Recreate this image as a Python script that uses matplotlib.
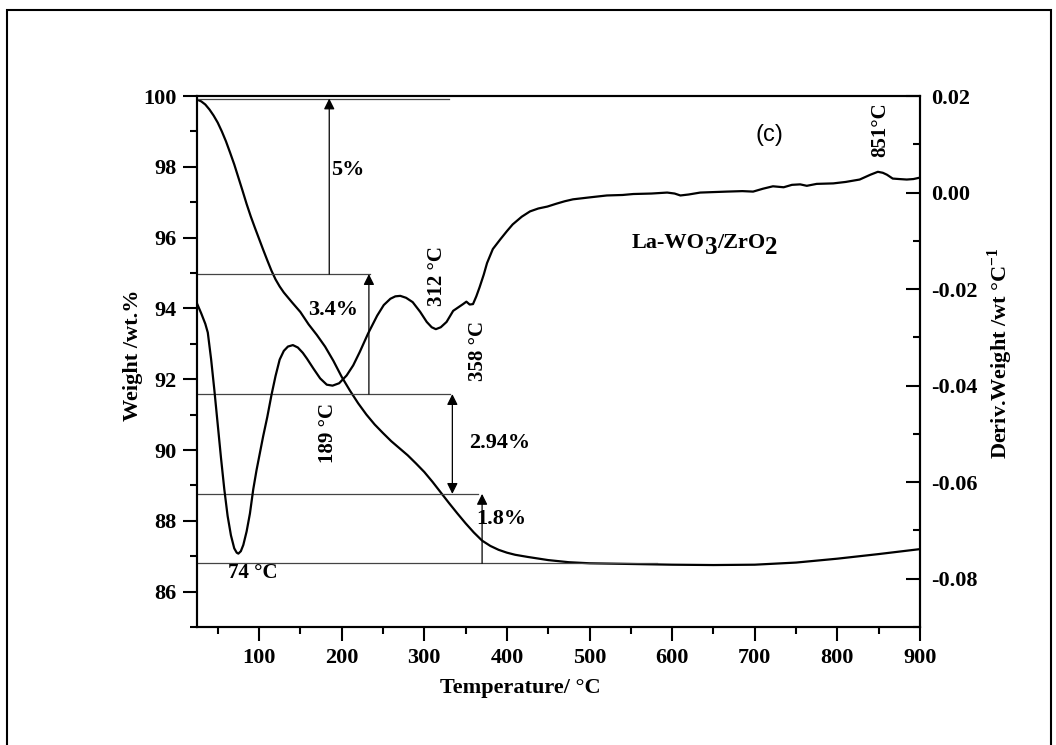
import numpy as np
import matplotlib.pyplot as plt
from matplotlib.patches import Rectangle
from matplotlib.ticker import MultipleLocator, FormatStrFormatter

plt.rcParams['font.family'] = 'Liberation Serif'
plt.rcParams['font.weight'] = 'bold'
plt.rcParams['axes.labelweight'] = 'bold'
plt.rcParams['axes.unicode_minus'] = False
plt.rcParams['mathtext.fontset'] = 'custom'
plt.rcParams['mathtext.rm'] = 'Liberation Serif:bold'
plt.rcParams['mathtext.bf'] = 'Liberation Serif:bold'

# TGA weight curve (left axis)
tga_temp = [25, 30, 35, 40, 45, 50, 55, 60, 65, 70, 75, 80, 85, 90, 95, 100, 105, 110,
            115, 120, 125, 130, 135, 140, 150, 160, 170, 180, 190, 200, 210, 220, 230,
            240, 250, 260, 270, 280, 290, 300, 310, 320, 330, 340, 350, 360, 370, 380,
            390, 400, 410, 425, 450, 475, 500, 550, 600, 650, 700, 750, 800, 850, 900]
tga_weight = [99.90, 99.85, 99.76, 99.62, 99.45, 99.25, 99.00, 98.72, 98.40, 98.07,
              97.70, 97.33, 96.95, 96.60, 96.28, 95.97, 95.66, 95.36, 95.07, 94.82,
              94.62, 94.45, 94.31, 94.17, 93.90, 93.55, 93.25, 92.92, 92.52, 92.07,
              91.68, 91.32, 91.00, 90.72, 90.48, 90.25, 90.05, 89.85, 89.62, 89.38,
              89.10, 88.80, 88.50, 88.21, 87.93, 87.67, 87.44, 87.29, 87.18, 87.10,
              87.04, 86.98, 86.89, 86.83, 86.80, 86.78, 86.76, 86.75, 86.76, 86.82,
              86.93, 87.06, 87.20]

# DTG derivative curve (right axis)
dtg_temp = [25, 30, 35, 38, 42, 46, 50, 54, 58, 62, 66, 70, 73, 75, 78, 81, 85, 89, 93,
            97, 101, 105, 110, 115, 120, 125, 130, 135, 141, 147, 153, 158, 166, 174,
            182, 189, 197, 206, 214, 222, 232, 243, 251, 259, 265, 271, 278, 286, 295,
            303, 309, 314, 320, 327, 335, 341, 347, 351, 355, 359, 363, 367, 372, 376,
            383, 392, 400, 407, 418, 428, 438, 449, 460, 470, 480, 500, 521, 540, 553,
            575, 594, 603, 610, 620, 634, 650, 666, 685, 698, 710, 722, 735, 745, 755,
            763, 775, 795, 810, 827, 840, 849, 855, 860, 867, 875, 884, 892, 900]
dtg_value = [-0.0230, -0.0250, -0.0272, -0.0290, -0.0345, -0.0410, -0.0480, -0.0550,
             -0.0615, -0.0670, -0.0710, -0.0737, -0.0746, -0.0748, -0.0743, -0.0730,
             -0.0702, -0.0665, -0.0615, -0.0575, -0.0540, -0.0505, -0.0465, -0.0420,
             -0.0380, -0.0346, -0.0328, -0.0319, -0.0316, -0.0321, -0.0332, -0.0344,
             -0.0365, -0.0385, -0.0398, -0.0400, -0.0395, -0.0379, -0.0358, -0.0330,
             -0.0292, -0.0255, -0.0233, -0.0220, -0.0215, -0.0214, -0.0218, -0.0227,
             -0.0247, -0.0268, -0.0279, -0.0283, -0.0279, -0.0268, -0.0245, -0.0238,
             -0.0231, -0.0226, -0.0232, -0.0231, -0.0215, -0.0196, -0.0170, -0.0146,
             -0.0117, -0.0097, -0.0080, -0.0066, -0.0050, -0.0039, -0.0033, -0.0029,
             -0.0023, -0.0018, -0.0014, -0.0010, -0.0006, -0.0005, -0.0003, -0.0002,
             0.0000, -0.0002, -0.0006, -0.0004, 0.0000, 0.0001, 0.0002, 0.0003, 0.0002,
             0.0008, 0.0013, 0.0011, 0.0016, 0.0017, 0.0014, 0.0018, 0.0019, 0.0022,
             0.0027, 0.0037, 0.0043, 0.0041, 0.0037, 0.0029, 0.0028, 0.0027, 0.0028,
             0.0031]

# weight-loss step levels and where their guide lines end
step_levels = [99.93, 94.97, 91.58, 88.76, 86.80]
step_line_end = [330, 234, 331, 365, 582]
# vertical arrows: x position, from level, to level, style
arrow_x = [185, 233, 334, 370]
arrow_from = [94.97, 91.58, 91.58, 86.80]
arrow_to = [99.93, 94.97, 88.76, 88.76]
arrow_style = ['-|>', '-|>', '<|-|>', '-|>']
step_labels = ['5%', '3.4%', '2.94%', '1.8%']
step_label_xy = [(207, 97.9), (190, 93.95), (391, 90.2), (393, 88.05)]

fig = plt.figure(figsize=(10.56, 7.45), dpi=100)
ax = fig.add_axes([0.1866, 0.1584, 0.6846, 0.7127])
ax2 = ax.twinx()

ax.plot(tga_temp, tga_weight, color='black', lw=1.6)
ax2.plot(dtg_temp, dtg_value, color='black', lw=1.6)

for lev, xe in zip(step_levels, step_line_end):
    ax.plot([25, xe], [lev, lev], color='#444444', lw=0.9)
for x, y0, y1, st in zip(arrow_x, arrow_from, arrow_to, arrow_style):
    ax.annotate('', xy=(x, y1), xytext=(x, y0),
                arrowprops=dict(arrowstyle=st, color='black', lw=0.9,
                                mutation_scale=16, shrinkA=0, shrinkB=0))
for lab, (x, y) in zip(step_labels, step_label_xy):
    ax.text(x, y, lab, fontsize=16, ha='center', va='center')

# peak temperature labels
ax.text(93, 86.53, '74 °C', fontsize=15, ha='center', va='center')
ax.text(183, 90.48, '189 °C', fontsize=15, ha='center', va='center', rotation=90)
ax.text(315, 94.92, '312 °C', fontsize=15, ha='center', va='center', rotation=90)
ax.text(365, 92.8, '358 °C', fontsize=15, ha='center', va='center', rotation=90)
ax.text(852, 99.04, '851°C', fontsize=15, ha='center', va='center', rotation=90)

ax.text(718, 98.9, '(c)', fontsize=17, ha='center', va='center',
        family='Liberation Sans', weight='normal')

# sample name with lowered digits
t1 = ax.text(551, 95.7, 'La-WO', fontsize=16, ha='left', va='baseline')
t2 = ax.annotate('3', xy=(1, 0), xycoords=t1, xytext=(0, -4), textcoords='offset points',
                 fontsize=18, ha='left', va='bottom')
t3 = ax.annotate('/ZrO', xy=(1, 0), xycoords=t2, xytext=(0, 4), textcoords='offset points',
                 fontsize=16, ha='left', va='bottom')
ax.annotate('2', xy=(1, 0), xycoords=t3, xytext=(0, -4), textcoords='offset points',
            fontsize=18, ha='left', va='bottom')

ax.set_xlim(25, 900)
ax.set_ylim(85, 100)
ax2.set_ylim(-0.09, 0.02)

ax.xaxis.set_major_locator(MultipleLocator(100))
ax.xaxis.set_minor_locator(MultipleLocator(50))
ax.yaxis.set_major_locator(MultipleLocator(2))
ax.yaxis.set_minor_locator(MultipleLocator(1))
ax2.yaxis.set_major_locator(MultipleLocator(0.02))
ax2.yaxis.set_minor_locator(MultipleLocator(0.01))
ax2.yaxis.set_major_formatter(FormatStrFormatter('%.2f'))

ax.tick_params(axis='both', which='major', direction='out', length=10, width=1.5,
               labelsize=16, pad=5, top=False, right=False)
ax.tick_params(axis='both', which='minor', direction='out', length=5, width=1.5,
               top=False, right=False)
ax2.tick_params(axis='y', which='major', direction='in', length=10, width=1.5,
                labelsize=16, pad=8)
ax2.tick_params(axis='y', which='minor', direction='in', length=5, width=1.5)

for a in (ax, ax2):
    for s in a.spines.values():
        s.set_linewidth(1.5)

ax.set_xlabel('Temperature/ °C', fontsize=16, fontweight='bold', va='center')
ax.xaxis.set_label_coords(0.447, -0.115)
ax.set_ylabel('Weight /wt.%', fontsize=16, fontweight='bold', va='center')
ax.yaxis.set_label_coords(-0.0885, 0.512)
ax2.set_ylabel('Deriv.Weight /wt °C$^{-1}$', fontsize=16, fontweight='bold', va='center')
ax2.yaxis.set_label_coords(1.1106, 0.516)

fig.patches.append(Rectangle((0.0066, -0.05), 0.9890, 1.0366, transform=fig.transFigure,
                             fill=False, edgecolor='black', lw=1.5))

fig.savefig('out.png', dpi=100, facecolor='white')
